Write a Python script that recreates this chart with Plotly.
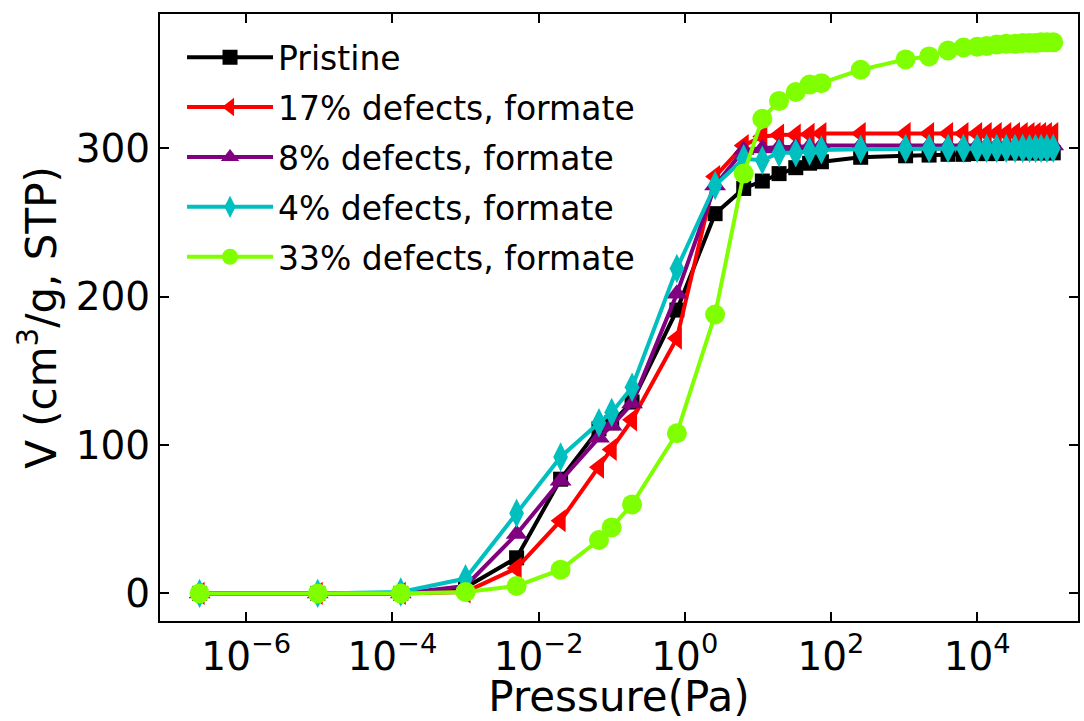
import plotly.graph_objects as go

# Pressure grid shared by all isotherms (Pa)
pressure = [2.3e-7, 9.5e-6, 1.3e-4, 1.0e-3, 5.0e-3, 0.02, 0.067, 0.10, 0.19, 0.78,
            2.6, 6.4, 11.5, 19.5, 33, 51, 74, 255, 1050, 2200,
            4000, 6500, 10000, 13500, 18500, 25000, 33000, 42000, 52000, 63000,
            75000, 90000, 110000]

# Uptake, cm3/g STP
pristine = [0, 0, 0, 4, 24, 77, 111, 115, 129, 191,
            256, 273, 278, 283, 287, 290, 291, 294, 295, 295.5,
            296, 296, 296.5, 296.5, 296.5, 297, 297, 297, 297, 297,
            297, 297, 297]
formate_17 = [0, 0, 0, 1, 17, 49, 85, 97, 117, 172,
              281, 302, 308, 309, 309, 309.5, 310, 310, 310, 310,
              310, 310, 310, 310, 310, 310, 310, 310, 310, 310,
              310, 310, 310]
formate_8 = [0, 0, 0, 5, 40, 76, 105, 113, 128, 202,
             275, 299, 300, 301, 301, 301.5, 302, 302, 302, 302,
             302, 302, 302, 302, 302, 302, 302, 302, 302, 302,
             302, 302, 302]
formate_4 = [0, 0, 1, 10, 54, 92, 115, 122, 139, 219,
             275, 293, 292, 297, 297, 298, 299, 299.5, 300, 300,
             300, 300, 300, 300, 300, 300, 300, 300, 300, 300,
             300, 300, 300]
formate_33 = [0, 0, 0, 1, 5, 16, 36, 44.5, 60, 108,
              188, 283, 320, 332, 338, 343, 344, 353, 360, 362,
              366, 368, 368.5, 369, 370, 370.5, 370.5, 371, 371, 371,
              371.5, 371.5, 371.5]

series_names = ["Pristine", "17% defects, formate", "8% defects, formate",
                "4% defects, formate", "33% defects, formate"]
series_values = [pristine, formate_17, formate_8, formate_4, formate_33]
colors = ["#000000", "#ff0000", "#800080", "#00bfbf", "#7fff00"]
symbols = ["square", "triangle-left", "triangle-up", "diamond-tall", "circle"]
marker_sizes = [15, 20, 19, 21, 20]

x_tickvals = [1e-6, 1e-4, 1e-2, 1, 1e2, 1e4]
x_ticktext = ["10<sup>\u22126</sup>", "10<sup>\u22124</sup>", "10<sup>\u22122</sup>",
              "10<sup>0</sup>", "10<sup>2</sup>", "10<sup>4</sup>"]
y_tickvals = [0, 100, 200, 300]

fig = go.Figure()
for i, (name, vals) in enumerate(zip(series_names, series_values)):
    fig.add_trace(go.Scatter(
        x=pressure, y=vals, name=name, mode="lines+markers",
        legendgroup=f"g{i}",
        line=dict(color=colors[i], width=4),
        marker=dict(symbol=symbols[i], size=marker_sizes[i], color=colors[i],
                    line=dict(width=0)),
    ))

axis_common = dict(
    showline=True, linewidth=2, linecolor="black", mirror="allticks",
    ticks="inside", ticklen=9, tickwidth=1.5, tickcolor="black",
    showgrid=False, zeroline=False,
    tickfont=dict(size=39, color="black"),
)

fig.update_xaxes(type="log", range=[-7.18, 5.38], tickvals=x_tickvals,
                 ticktext=x_ticktext,
                 title=dict(text="Pressure(Pa)", font=dict(size=42), standoff=7),
                 **axis_common)
fig.update_yaxes(range=[-18.6, 390.6], tickvals=y_tickvals,
                 title=dict(text="V (cm<sup>3</sup>/g, STP)", font=dict(size=42), standoff=6),
                 **axis_common)

fig.update_layout(
    width=1084, height=721,
    margin=dict(l=160, r=4, t=14, b=100),
    plot_bgcolor="white", paper_bgcolor="white",
    font=dict(family="DejaVu Sans", color="black"),
    legend=dict(x=0.024, y=0.975, xanchor="left", yanchor="top",
                bgcolor="rgba(0,0,0,0)", font=dict(size=33),
                tracegroupgap=4, itemwidth=86),
)

fig.write_html("out.html")
